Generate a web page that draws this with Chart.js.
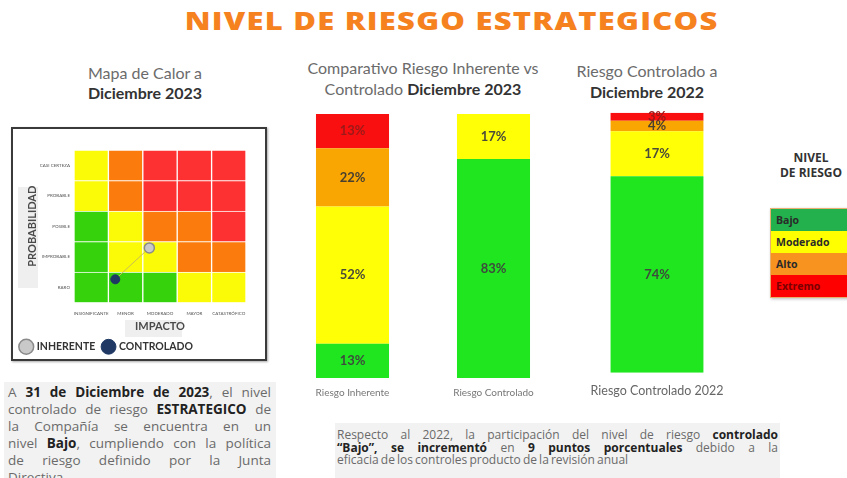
<!DOCTYPE html>
<html>
<head>
<meta charset="utf-8">
<script src="https://cdn.jsdelivr.net/npm/chart.js@4.4.0/dist/chart.umd.min.js"></script>
<style>
body{margin:0;width:847px;height:478px;background:#fff;position:relative;overflow:hidden;font-family:Lato,sans-serif;}
.abs{position:absolute;}
#titulo{left:0;top:4px;width:904px;text-align:center;font-family:"Open Sans";font-weight:800;font-size:25px;line-height:32px;color:#f5821f;}
#titulo span{display:inline-block;letter-spacing:1px;transform:scaleX(1.238);transform-origin:center;}
.sub{text-align:center;font-size:16px;line-height:21px;color:#6b6b6b;}
.sub b{color:#333;}
#cajaMapa{left:11px;top:127px;width:256px;height:234px;box-sizing:border-box;border:2px solid #3a3a3a;box-shadow:1px 1px 2px #aaa;}
.fondoTit{background:#efefef;}
#nivelTit{left:761px;top:150px;width:100px;text-align:center;font-family:"Open Sans";font-weight:700;font-size:12px;line-height:15px;color:#333;}
#clave{left:770px;top:208px;width:90px;border:1px solid #e8b070;box-shadow:1px 1px 3px #bbb;}
#clave div{height:22px;line-height:22px;padding-left:5px;font-family:"Open Sans";font-weight:700;font-size:10.5px;color:#2a2a2a;}
.texto{background:#f2f2f2;font-family:"Open Sans";color:#6a6a6a;}
.texto b{color:#222;}
.j{text-align:justify;text-align-last:justify;white-space:nowrap;}
</style>
</head>
<body>
<div id="titulo" class="abs"><span>NIVEL DE RIESGO ESTRATEGICOS</span></div>

<div class="abs sub" style="left:45px;top:63px;width:200px;line-height:20px;">Mapa de Calor a<br><b>Diciembre 2023</b></div>
<div class="abs sub" style="left:273px;top:57px;width:300px;">Comparativo Riesgo Inherente vs<br>Controlado <b>Diciembre 2023</b></div>
<div class="abs sub" style="left:547px;top:60px;width:200px;">Riesgo Controlado a<br><b>Diciembre 2022</b></div>

<div id="cajaMapa" class="abs">
  <div class="abs fondoTit" style="left:5px;top:58px;width:20px;height:101px;"></div>
  <div class="abs fondoTit" style="left:112px;top:191px;width:57px;height:17px;"></div>
  <canvas id="mapa" class="abs" style="left:0;top:0;" width="252" height="233"></canvas>
</div>

<canvas id="barras2023" class="abs" style="left:282px;top:108px;" width="282" height="300"></canvas>
<canvas id="barras2022" class="abs" style="left:575px;top:106px;" width="164" height="300"></canvas>

<div id="nivelTit" class="abs">NIVEL<br>DE RIESGO</div>
<div id="clave" class="abs">
  <div style="background:#22b14c;">Bajo</div>
  <div style="background:#ffff00;">Moderado</div>
  <div style="background:#f7931e;">Alto</div>
  <div style="background:#ff0000;color:#7a0000;">Extremo</div>
</div>

<div class="abs texto" style="left:4px;top:382px;width:272px;height:110px;padding:2px 5px 0 4px;box-sizing:border-box;font-size:13.5px;line-height:17px;">
  <div class="j">A <b>31 de Diciembre de 2023</b>, el nivel</div>
  <div class="j">controlado de riesgo <b>ESTRATEGICO</b> de</div>
  <div class="j">la Compañía se encuentra en un</div>
  <div class="j">nivel <b>Bajo</b>, cumpliendo con la política</div>
  <div class="j">de riesgo definido por la Junta</div>
  <div>Directiva.</div>
</div>

<div class="abs texto" style="left:335px;top:423px;width:445px;height:60px;padding:6px 2px 0 2px;box-sizing:border-box;font-size:12px;line-height:12.5px;">
  <div class="j">Respecto al 2022, la participación del nivel de riesgo <b>controlado</b></div>
  <div class="j"><b>“Bajo”, se incrementó</b> en <b>9 puntos porcentuales</b> debido a la</div>
  <div style="word-spacing:-1px;">eficacia de los controles producto de la revisión anual</div>
</div>

<script>
// ejes del mapa de calor
var probabilidad = ['RARO','IMPROBABLE','POSIBLE','PROBABLE','CASI CERTEZA'];
var impacto = ['INSIGNIFICANTE','MENOR','MODERADO','MAYOR','CATASTRÓFICO'];
// nivel de cada celda, una fila por probabilidad (de RARO a CASI CERTEZA)
var celdasRaro = ['B','B','B','M','M'];
var celdasImprobable = ['B','M','M','A','A'];
var celdasPosible = ['B','M','A','A','E'];
var celdasProbable = ['M','A','E','E','E'];
var celdasCasiCerteza = ['M','A','E','E','E'];
// posicion del riesgo en el mapa (impacto, probabilidad)
var puntoInherente = [{x:2.19, y:1.79}];
var puntoControlado = [{x:1.2, y:0.76}];

// barras
var categorias2023 = ['Riesgo Inherente','Riesgo Controlado'];
var bajo2023 = [13,83];
var moderado2023 = [52,17];
var alto2023 = [22,0];
var extremo2023 = [13,0];
var categorias2022 = ['Riesgo Controlado 2022'];
var bajo2022 = [74];
var moderado2022 = [17];
var alto2022 = [4];
var extremo2022 = [3];

var colorMapa = {B:'#36d30c', M:'#fbfb08', A:'#fb7c0c', E:'#fd3131'};
var colorBarra = {bajo:'#20e620', moderado:'#ffff05', alto:'#f9a602', extremo:'#f90f0f'};

Chart.defaults.font.family = 'Lato';
Chart.defaults.animation = false;
Chart.defaults.plugins.tooltip.enabled = false;

// mapa de calor: barras apiladas de alto 1 en un eje lineal
var filas = [celdasRaro, celdasImprobable, celdasPosible, celdasProbable, celdasCasiCerteza];
var dsMapa = [];
dsMapa.push({type:'scatter', label:'INHERENTE', data:puntoInherente, stack:'i', order:0,
    pointRadius:5, pointBackgroundColor:'#c9c9c9', pointBorderColor:'#8a8a8a', pointBorderWidth:1.5,
    backgroundColor:'#c9c9c9', borderColor:'#8a8a8a'});
dsMapa.push({type:'scatter', label:'CONTROLADO', data:puntoControlado, stack:'c', order:0,
    pointRadius:4.5, pointBackgroundColor:'#1f3864', pointBorderColor:'#1f3864',
    backgroundColor:'#1f3864', borderColor:'#1f3864'});
dsMapa.push({type:'line', label:'union', data:[puntoInherente[0], puntoControlado[0]], stack:'l', order:1,
    borderColor:'#c8bf55', borderWidth:1, pointRadius:0});
filas.forEach(function(fila, r){
    dsMapa.push({
        type:'bar', label:probabilidad[r], stack:'mapa', order:2,
        data: fila.map(function(k, c){ return {x:c+0.5, y:1}; }),
        backgroundColor: fila.map(function(k){ return colorMapa[k]; }),
        borderColor:'rgba(255,255,255,0.45)', borderWidth:1,
        barPercentage:1, categoryPercentage:1
    });
});

new Chart(document.getElementById('mapa'), {
    type:'bar',
    data:{datasets:dsMapa},
    options:{
        responsive:false,
        layout:{padding:{top:21, right:19, left:0, bottom:0}},
        scales:{
            x:{type:'linear', min:0, max:5, offset:false,
                grid:{display:false, drawTicks:false}, border:{display:false},
                afterBuildTicks:function(ax){ ax.ticks = impacto.map(function(n,i){ return {value:i+0.5}; }); },
                afterFit:function(ax){ ax.height = 31; },
                ticks:{autoSkip:false, maxRotation:0, padding:8, color:'#555', font:{size:4.5},
                    callback:function(v,i){ return impacto[i]; }},
                title:{display:true, text:'IMPACTO', color:'#4a4a4a', font:{size:11, weight:'bold'}, padding:{top:0,bottom:0}}
            },
            y:{type:'linear', stacked:true, min:0, max:5,
                grid:{display:false, drawTicks:false}, border:{display:false},
                afterBuildTicks:function(ax){ ax.ticks = probabilidad.map(function(n,i){ return {value:i+0.5}; }); },
                afterFit:function(ax){ ax.width = 61; },
                ticks:{autoSkip:false, padding:4, color:'#555', font:{size:4.5},
                    callback:function(v,i){ return probabilidad[i]; }},
                title:{display:true, text:'PROBABILIDAD', color:'#4a4a4a', font:{size:11, weight:'bold'}, padding:{top:13,bottom:0}}
            }
        },
        plugins:{
            legend:{position:'bottom', align:'start',
                labels:{usePointStyle:true, pointStyle:'circle', color:'#333', padding:8,
                    font:{size:10.5, weight:'bold'},
                    filter:function(it){ return it.text==='INHERENTE' || it.text==='CONTROLADO'; }}}
        }
    }
});

// etiquetas de porcentaje dentro de cada tramo
var etiquetas = {
    id:'etiquetas',
    afterDatasetsDraw:function(chart){
        var ctx = chart.ctx;
        chart.data.datasets.forEach(function(ds, i){
            var meta = chart.getDatasetMeta(i);
            meta.data.forEach(function(bar, j){
                var v = ds.data[j];
                if (!v) return;
                ctx.save();
                ctx.font = 'bold 13px Lato';
                ctx.fillStyle = ds.colorTexto;
                ctx.textAlign = 'center';
                ctx.textBaseline = 'middle';
                ctx.fillText(v + '%', bar.x, (bar.y + bar.base) / 2);
                ctx.restore();
            });
        });
    }
};

function tramos(bajo, moderado, alto, extremo){
    return [
        {label:'Bajo', data:bajo, backgroundColor:colorBarra.bajo, colorTexto:'#3d4a3d'},
        {label:'Moderado', data:moderado, backgroundColor:colorBarra.moderado, colorTexto:'#4a4a3a'},
        {label:'Alto', data:alto, backgroundColor:colorBarra.alto, colorTexto:'#4a4030'},
        {label:'Extremo', data:extremo, backgroundColor:colorBarra.extremo, colorTexto:'#9a1a1a'}
    ];
}
function suma(){
    var total = 0;
    for (var i=0;i<arguments.length;i++){
        arguments[i].forEach(function(v){ total += v; });
    }
    return total;
}

new Chart(document.getElementById('barras2023'), {
    type:'bar',
    data:{labels:categorias2023, datasets:tramos(bajo2023, moderado2023, alto2023, extremo2023)},
    options:{
        responsive:false,
        layout:{padding:{top:6}},
        datasets:{bar:{categoryPercentage:1, barPercentage:0.518}},
        scales:{
            x:{stacked:true, grid:{display:false, drawTicks:false}, border:{display:false},
                afterFit:function(ax){ ax.height = 30; },
                ticks:{maxRotation:0, minRotation:0, autoSkip:false, padding:9, color:'#777', font:{size:10}}},
            y:{stacked:true, display:false, min:0, max:100}
        },
        plugins:{legend:{display:false}}
    },
    plugins:[etiquetas]
});

new Chart(document.getElementById('barras2022'), {
    type:'bar',
    data:{labels:categorias2022, datasets:tramos(bajo2022, moderado2022, alto2022, extremo2022)},
    options:{
        responsive:false,
        layout:{padding:{top:6.7, left:15, right:15}},
        datasets:{bar:{categoryPercentage:1, barPercentage:0.76}},
        scales:{
            x:{stacked:true, grid:{display:false, drawTicks:false}, border:{display:false},
                afterFit:function(ax){ ax.height = 33.3; },
                ticks:{maxRotation:0, minRotation:0, autoSkip:false, padding:11, color:'#666', font:{size:12.5}}},
            y:{stacked:true, display:false, min:0, max:suma(bajo2022, moderado2022, alto2022, extremo2022)}
        },
        plugins:{legend:{display:false}}
    },
    plugins:[etiquetas]
});
</script>
</body>
</html>
